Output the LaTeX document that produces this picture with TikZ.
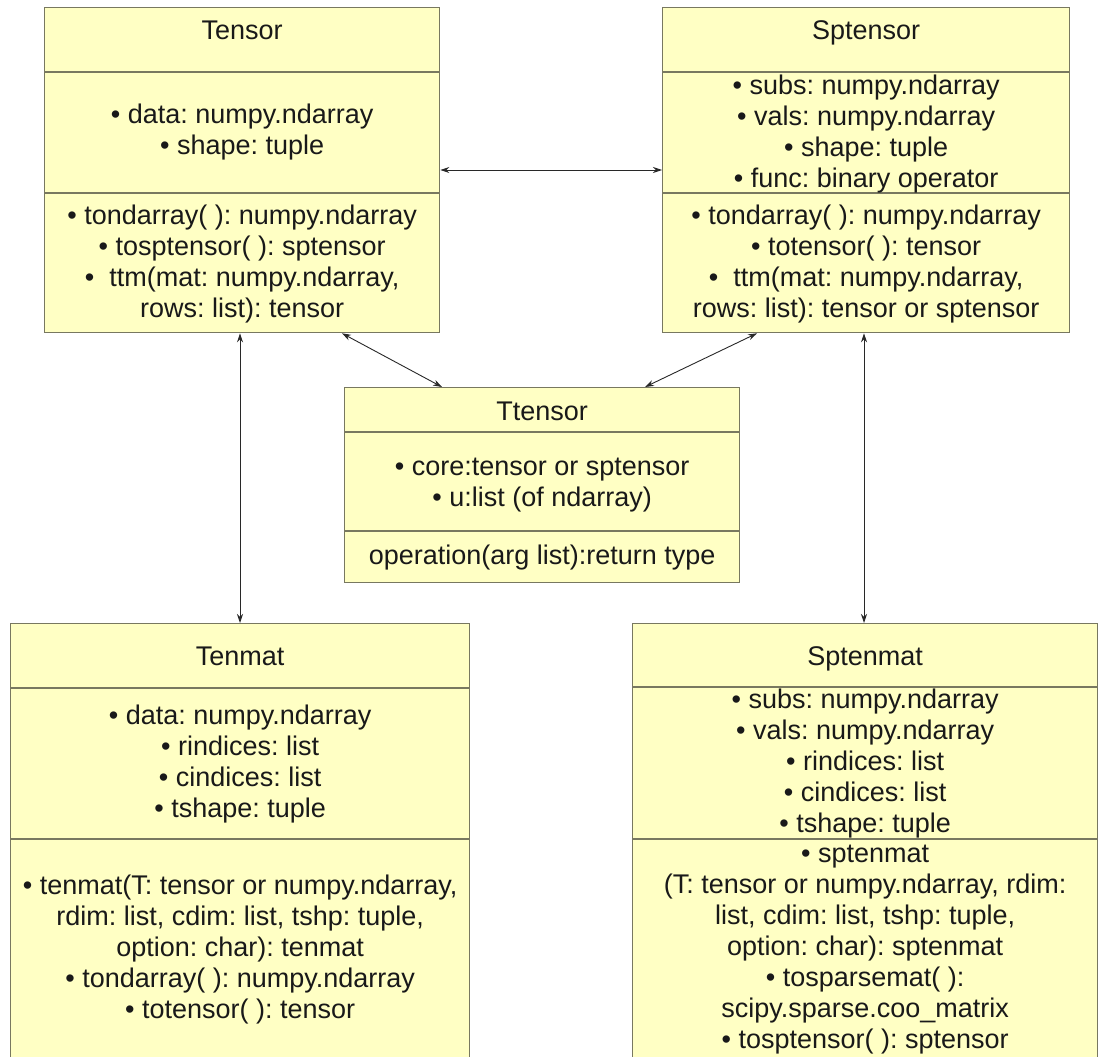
\documentclass[tikz,border=0pt]{standalone}
\usepackage{fontspec}
\setmainfont{Liberation Sans}
\frenchspacing
\usetikzlibrary{arrows.meta}
\definecolor{boxfill}{RGB}{255,255,196}
\definecolor{boxline}{RGB}{120,120,96}
\definecolor{txtcol}{RGB}{25,25,25}
\definecolor{arrowcol}{RGB}{40,40,40}
\tikzset{
  cls/.style={draw=boxline, fill=boxfill, line width=1.3pt, rectangle, inner sep=0pt, anchor=north west},
  sepline/.style={draw=boxline, line width=1.3pt},
  txt/.style={align=center, inner sep=0pt, text=txtcol, font=\fontsize{27}{31}\selectfont\frenchspacing},
  ttl/.style={txt, anchor=base},
  rel/.style={draw=arrowcol, line width=0.9pt, {Stealth[length=9pt,width=6pt]}-{Stealth[length=9pt,width=6pt]}}
}
\begin{document}
\begin{tikzpicture}[x=1pt,y=-1pt]
\useasboundingbox (0,0) rectangle (1100,1057);
\clip (0,0) rectangle (1100,1057);
\fill[white] (0,0) rectangle (1100,1057);

% Tensor
\node[cls, minimum width=395pt, minimum height=325pt] (tensor) at (44,7) {};
\draw[sepline] (tensor.west |- 0,72) -- (tensor.east |- 0,72);
\draw[sepline] (tensor.west |- 0,193) -- (tensor.east |- 0,193);
\node[ttl] (tensorT) at (tensor.north |- 0,40) {Tensor};
\node[txt] (tensorA) at (tensor.north |- 0,132.5) {• data: numpy.ndarray\\• shape: tuple};
\node[txt] (tensorM) at (tensor.north |- 0,264) {• tondarray( ): numpy.ndarray\\• tosptensor( ): sptensor\\•\ \ ttm(mat: numpy.ndarray,\\rows: list): tensor};

% Sptensor
\node[cls, minimum width=407pt, minimum height=325pt] (sptensor) at (662,7) {};
\draw[sepline] (sptensor.west |- 0,72) -- (sptensor.east |- 0,72);
\draw[sepline] (sptensor.west |- 0,193) -- (sptensor.east |- 0,193);
\node[ttl] (sptensorT) at (sptensor.north |- 0,40) {Sptensor};
\node[txt] (sptensorA) at (sptensor.north |- 0,134) {• subs: numpy.ndarray\\• vals: numpy.ndarray\\• shape: tuple\\• func: binary operator};
\node[txt] (sptensorM) at (sptensor.north |- 0,264) {• tondarray( ): numpy.ndarray\\• totensor( ): tensor\\•\ \ ttm(mat: numpy.ndarray,\\rows: list): tensor or sptensor};

% Ttensor
\node[cls, minimum width=395pt, minimum height=195pt] (ttensor) at (344,387) {};
\draw[sepline] (ttensor.west |- 0,432) -- (ttensor.east |- 0,432);
\draw[sepline] (ttensor.west |- 0,531) -- (ttensor.east |- 0,531);
\node[ttl] (ttensorT) at (ttensor.north |- 0,420) {Ttensor};
\node[txt] (ttensorA) at (ttensor.north |- 0,485) {• core:tensor or sptensor\\• u:list (of ndarray)};
\node[txt] (ttensorM) at (ttensor.north |- 0,558) {operation(arg list):return type};

% Tenmat
\node[cls, minimum width=459pt, minimum height=460pt] (tenmat) at (10,623) {};
\draw[sepline] (tenmat.west |- 0,688) -- (tenmat.east |- 0,688);
\draw[sepline] (tenmat.west |- 0,839) -- (tenmat.east |- 0,839);
\node[ttl] (tenmatT) at (tenmat.north |- 0,665) {Tenmat};
\node[txt] (tenmatA) at (tenmat.north |- 0,764) {• data: numpy.ndarray\\• rindices: list\\• cindices: list\\• tshape: tuple};
\node[txt] (tenmatM) at (tenmat.north |- 0,950) {• tenmat(T: tensor or numpy.ndarray,\\rdim: list, cdim: list, tshp: tuple,\\option: char): tenmat\\• tondarray( ): numpy.ndarray\\• totensor( ): tensor};

% Sptenmat
\node[cls, minimum width=465pt, minimum height=460pt] (sptenmat) at (632,623) {};
\draw[sepline] (sptenmat.west |- 0,687) -- (sptenmat.east |- 0,687);
\draw[sepline] (sptenmat.west |- 0,839) -- (sptenmat.east |- 0,839);
\node[ttl] (sptenmatT) at (sptenmat.north |- 0,665) {Sptenmat};
\node[txt] (sptenmatA) at (sptenmat.north |- 0,764) {• subs: numpy.ndarray\\• vals: numpy.ndarray\\• rindices: list\\• cindices: list\\• tshape: tuple};
\node[txt] (sptenmatM) at (sptenmat.north |- 0,950) {• sptenmat\\(T: tensor or numpy.ndarray, rdim:\\list, cdim: list, tshp: tuple,\\option: char): sptenmat\\• tosparsemat( ):\\scipy.sparse.coo\_matrix\\• tosptensor( ): sptensor};

% relations
\draw[rel] (tensor.east |- 0,170) -- (sptensor.west |- 0,170);
\draw[rel] (tensor.south -| 342,0) -- (ttensor.north -| 442,0);
\draw[rel] (sptensor.south -| 757,0) -- (ttensor.north -| 645,0);
\draw[rel] (tensor.south -| 240,0) -- (tenmat.north -| 240,0);
\draw[rel] (sptensor.south -| 864,0) -- (sptenmat.north -| 864,0);
\end{tikzpicture}
\end{document}
